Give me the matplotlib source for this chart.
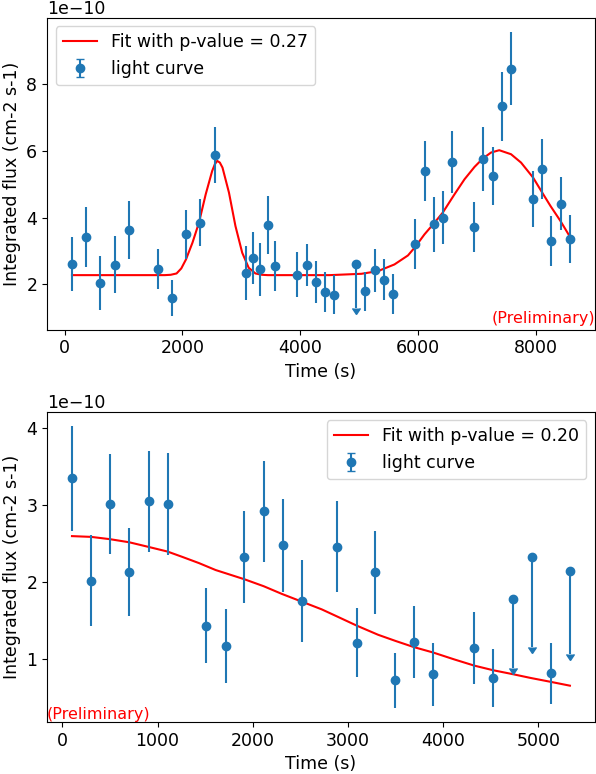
import numpy as np
import matplotlib.pyplot as plt

plt.rcParams['font.size'] = 12.5

# ---- top panel: light curve (flux in units of 1e-10 cm-2 s-1) ----
t1 = [124, 366, 608, 851, 1087, 1589, 1825, 2062, 2304, 2546,
      3081, 3206, 3324, 3448, 3572, 3950, 4107, 4264, 4422, 4580,
      4952, 5104, 5262, 5420, 5577, 5954, 6112, 6270, 6428, 6580,
      6958, 7110, 7267, 7425, 7583, 7949, 8107, 8264, 8422, 8580]
flux1 = [2.60, 3.42, 2.04, 2.59, 3.64, 2.45, 1.60, 3.50, 3.85, 5.88,
         2.35, 2.79, 2.45, 3.79, 2.55, 2.29, 2.58, 2.08, 1.78, 1.69,
         2.61, 1.79, 2.42, 2.14, 1.72, 3.21, 5.40, 3.80, 4.00, 5.67,
         3.72, 5.76, 5.25, 7.33, 8.46, 4.57, 5.45, 3.30, 4.42, 3.35]
err1 = [0.81, 0.89, 0.80, 0.85, 0.87, 0.60, 0.53, 0.73, 0.71, 0.83,
        0.81, 0.77, 0.78, 0.87, 0.74, 0.67, 0.63, 0.62, 0.60, 0.58,
        1.31, 0.59, 0.64, 0.61, 0.59, 0.74, 0.90, 0.82, 0.80, 0.92,
        0.74, 0.96, 0.88, 1.02, 1.10, 0.84, 0.90, 0.74, 0.80, 0.72]
ul1 = [i == 20 for i in range(len(t1))]

fit_t1 = [124, 1000, 1700, 1800, 1900, 1980, 2060, 2170, 2280, 2395,
          2505, 2550, 2590, 2635, 2680, 2790, 2900, 3015, 3125, 3240,
          3350, 3450, 4500, 5040, 5320, 5600, 5830, 5955, 6110, 6280,
          6420, 6620, 6790, 6960, 7100, 7240, 7380, 7580, 7750, 7955,
          8110, 8250, 8420, 8580]
fit_v1 = [2.28, 2.28, 2.28, 2.29, 2.33, 2.48, 2.75, 3.25, 3.85, 4.70,
          5.40, 5.60, 5.70, 5.65, 5.50, 4.75, 3.75, 2.95, 2.50, 2.33,
          2.29, 2.28, 2.28, 2.32, 2.40, 2.60, 2.87, 3.13, 3.50, 3.85,
          4.15, 4.70, 5.15, 5.52, 5.77, 5.95, 6.02, 5.90, 5.65, 5.20,
          4.75, 4.35, 3.90, 3.43]

# ---- bottom panel ----
t2 = [101, 303, 502, 703, 905, 1107, 1511, 1714, 1913, 2115, 2313, 2515,
      2888, 3090, 3289, 3491, 3690, 3892, 4327, 4526, 4728, 4929, 5128, 5331]
flux2 = [3.35, 2.02, 3.02, 2.13, 3.05, 3.02, 1.44, 1.18, 2.33, 2.92, 2.48, 1.76,
         2.46, 1.22, 2.13, 0.73, 1.23, 0.81, 1.15, 0.76, 1.78, 2.33, 0.82, 2.15]
err2 = [0.68, 0.59, 0.65, 0.57, 0.66, 0.66, 0.49, 0.48, 0.60, 0.65, 0.60, 0.53,
        0.59, 0.45, 0.54, 0.36, 0.47, 0.41, 0.47, 0.38, 0.89, 1.17, 0.40, 1.08]
ul2 = [i in (20, 21, 23) for i in range(len(t2))]

fit_t2 = [101, 303, 502, 703, 905, 1104, 1261, 1435, 1610, 1913, 2115, 2306,
          2515, 2724, 2899, 3090, 3317, 3500, 3693, 3895, 4118, 4327, 4526,
          4728, 4919, 5128, 5331]
fit_v2 = [2.60, 2.59, 2.56, 2.52, 2.46, 2.40, 2.33, 2.25, 2.16, 2.04, 1.95, 1.85,
          1.75, 1.65, 1.55, 1.44, 1.32, 1.24, 1.16, 1.09, 1.00, 0.92, 0.86,
          0.81, 0.76, 0.71, 0.66]


def draw_panel(ax, t, flux, err, ul, fit_t, fit_v, pval):
    ax.plot(fit_t, np.array(fit_v) * 1e-10, color='red',
            label='Fit with p-value = %s' % pval)
    ax.errorbar(t, np.array(flux) * 1e-10, yerr=np.array(err) * 1e-10,
                uplims=ul, fmt='o', label='light curve')
    ax.set_xlabel('Time (s)')
    ax.set_ylabel('Integrated flux (cm-2 s-1)')


fig = plt.figure(figsize=(5.96, 7.74), dpi=100)
ax1 = fig.add_axes([0.079, 0.574, 0.919, 0.403])
ax2 = fig.add_axes([0.079, 0.067, 0.919, 0.401])

draw_panel(ax1, t1, flux1, err1, ul1, fit_t1, fit_v1, '0.27')
ax1.legend(loc='upper left')
ax1.text(1.0, 0.012, '(Preliminary)', color='red', fontsize=11.5,
         ha='right', va='bottom', transform=ax1.transAxes)

draw_panel(ax2, t2, flux2, err2, ul2, fit_t2, fit_v2, '0.20')
ax2.set_yticks(np.array([1, 2, 3, 4]) * 1e-10)
ax2.legend(loc='upper right')
ax2.text(0.0, 0.0, '(Preliminary)', color='red', fontsize=11.5,
         ha='left', va='bottom', transform=ax2.transAxes)

fig.savefig('out.png')
